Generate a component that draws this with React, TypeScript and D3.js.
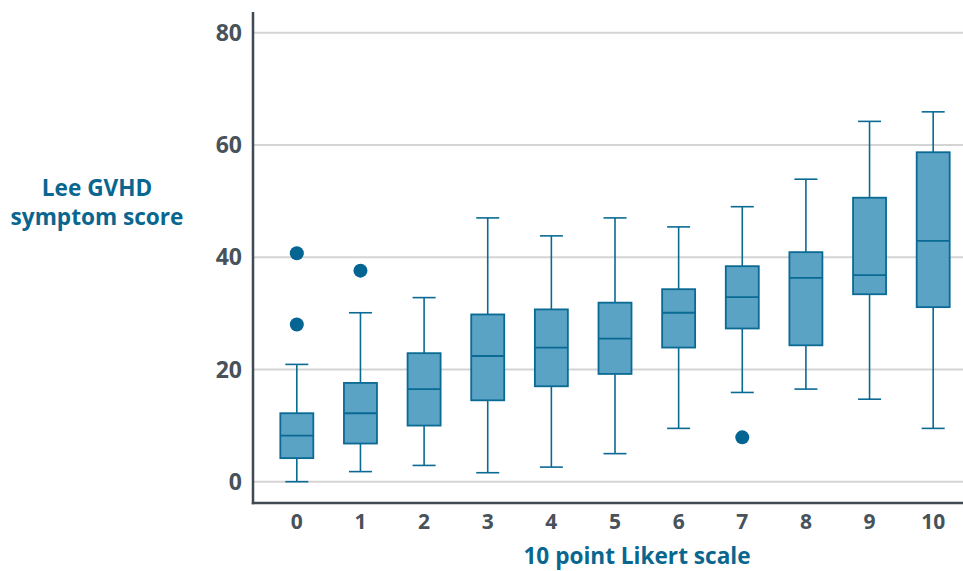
import React from "react";
import * as d3 from "d3";

const categories = ["0", "1", "2", "3", "4", "5", "6", "7", "8", "9", "10"];
const whiskerLow = [0, 1.8, 2.9, 1.6, 2.6, 5.0, 9.5, 15.9, 16.5, 14.7, 9.5];
const q1 = [4.2, 6.8, 10.0, 14.5, 17.0, 19.2, 23.9, 27.3, 24.3, 33.4, 31.1];
const median = [8.2, 12.2, 16.5, 22.4, 23.9, 25.5, 30.1, 32.9, 36.3, 36.8, 42.9];
const q3 = [12.2, 17.6, 22.9, 29.8, 30.7, 31.9, 34.3, 38.4, 40.9, 50.6, 58.7];
const whiskerHigh = [20.9, 30.1, 32.8, 47.0, 43.8, 47.0, 45.4, 49.0, 53.9, 64.2, 65.9];
const outliers: [string, number][] = [
  ["0", 40.7],
  ["0", 28.0],
  ["1", 37.6],
  ["7", 7.9],
];
const yTicks = [0, 20, 40, 60, 80];

const W = 963;
const H = 571;
const axisX = 253;
const axisY = 503;
const rightX = 963;

const FONT = "'Open Sans', 'DejaVu Sans', sans-serif";
const TEXT_GRAY = "#47525a";
const TITLE_BLUE = "#09668f";
const BOX_FILL = "#5aa3c5";
const BOX_STROKE = "#0a6a94";
const DOT = "#046593";

export default function App() {
  const x = d3.scaleBand<string>().domain(categories).range([265, 965]).paddingInner(0).paddingOuter(0);
  const y = d3.scaleLinear().domain([0, 80]).range([481.7, 32.7]);
  const boxW = 33;
  const capW = 23;
  const cx = (c: string) => (x(c) as number) + x.bandwidth() / 2;

  return (
    <svg width={W} height={H} style={{ position: "absolute", left: 0, top: 0, background: "#fff" }} fontFamily={FONT}>
      {yTicks.map((t) => (
        <line key={"g" + t} x1={axisX} x2={rightX} y1={y(t)} y2={y(t)} stroke="#d4d4d4" strokeWidth={2} />
      ))}
      {yTicks.map((t) => (
        <text key={"yt" + t} x={242} y={y(t)} dy="0.36em" textAnchor="end" fontSize={23} fontWeight={700} fill={TEXT_GRAY}>
          {t}
        </text>
      ))}
      {categories.map((c, i) => {
        const xc = cx(c);
        return (
          <g key={"b" + c}>
            <line x1={xc} x2={xc} y1={y(whiskerLow[i])} y2={y(q1[i])} stroke={BOX_STROKE} strokeWidth={1.6} />
            <line x1={xc} x2={xc} y1={y(q3[i])} y2={y(whiskerHigh[i])} stroke={BOX_STROKE} strokeWidth={1.6} />
            <line x1={xc - capW / 2} x2={xc + capW / 2} y1={y(whiskerLow[i])} y2={y(whiskerLow[i])} stroke={BOX_STROKE} strokeWidth={1.6} />
            <line x1={xc - capW / 2} x2={xc + capW / 2} y1={y(whiskerHigh[i])} y2={y(whiskerHigh[i])} stroke={BOX_STROKE} strokeWidth={1.6} />
            <rect x={xc - boxW / 2} width={boxW} y={y(q3[i])} height={y(q1[i]) - y(q3[i])} fill={BOX_FILL} stroke={BOX_STROKE} strokeWidth={1.8} />
            <line x1={xc - boxW / 2} x2={xc + boxW / 2} y1={y(median[i])} y2={y(median[i])} stroke={BOX_STROKE} strokeWidth={1.8} />
          </g>
        );
      })}
      {outliers.map(([c, v], i) => (
        <circle key={"o" + i} cx={cx(c)} cy={y(v)} r={7} fill={DOT} />
      ))}
      <line x1={axisX} x2={axisX} y1={12} y2={axisY + 1.2} stroke="#3f4a52" strokeWidth={2.5} />
      <line x1={axisX - 1.2} x2={rightX} y1={axisY} y2={axisY} stroke="#3f4a52" strokeWidth={2.5} />
      {categories.map((c) => (
        <text key={"xt" + c} x={cx(c)} y={529} textAnchor="middle" fontSize={21} fontWeight={700} fill={TEXT_GRAY}>
          {c}
        </text>
      ))}
      <text x={97} y={196} textAnchor="middle" fontSize={22.6} fontWeight={700} fill={TITLE_BLUE}>
        Lee GVHD
      </text>
      <text x={97} y={225} textAnchor="middle" fontSize={22.6} fontWeight={700} fill={TITLE_BLUE}>
        symptom score
      </text>
      <text x={637} y={564} textAnchor="middle" fontSize={22.6} fontWeight={700} fill={TITLE_BLUE}>
        10 point Likert scale
      </text>
    </svg>
  );
}
